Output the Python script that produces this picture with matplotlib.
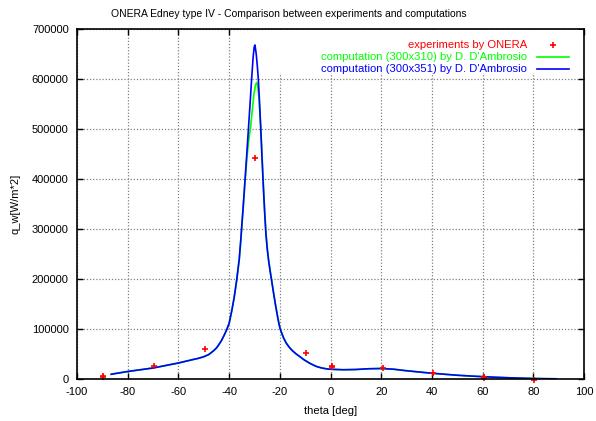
import matplotlib
matplotlib.use("Agg")
import matplotlib.pyplot as plt
from matplotlib.patches import Rectangle

plt.rcParams['font.family'] = ['Liberation Sans', 'DejaVu Sans']

# Experimental data (ONERA)
exp_theta = [-89.6, -89.6, -69.6, -49.5, -29.6, -9.7, 0.5, 0.5, 20.6, 40.5, 60.5, 60.5, 80.3]
exp_q = [6000, 3500, 26000, 60000, 443000, 51500, 27000, 23500, 22500, 12600, 4500, 2500, -1500]

# Computation (300x351)
blue_theta = [-86.5, -80, -70, -60, -55, -52, -50, -48, -46, -45, -44, -43, -42, -41, -40,
              -39, -38, -37, -36, -35.4, -34.4, -33.4, -32.4, -31.7, -31.1, -30.5, -30.1,
              -29.8, -29.3, -28.8, -28.5, -28.0, -27.5, -27.0, -26.5, -26.0, -25.5, -25.0,
              -24.4, -23.8, -23.2, -22.5, -21.7, -21.0, -20.4, -19.9, -19.2, -18.5, -17.5,
              -16.5, -16, -15, -14, -13, -12, -11, -10, -9, -8, -7, -6, -5, -4, -3, -2, -1,
              0, 5, 10, 15, 20, 25, 30, 35, 40, 45, 50, 55, 60, 65, 70, 75, 80, 85, 89]
blue_q = [9500, 15000, 22000, 32000, 38000, 41500, 44500, 49000, 57000, 62000, 69000, 77000,
          87000, 98000, 111000, 135000, 163000, 198000, 240000, 278000, 348000, 422000,
          498000, 553000, 601000, 645000, 664000, 668000, 650000, 622000, 601000, 555000,
          498000, 440000, 385000, 335000, 292000, 262000, 236000, 215000, 196000, 173000,
          148000, 128000, 112000, 101000, 91000, 82000, 72000, 65000, 62000, 56500, 52000,
          48000, 44500, 40500, 37000, 34000, 31000, 28500, 26000, 24200, 22800, 21600,
          20700, 20000, 19500, 18500, 19000, 20500, 21000, 19500, 16500, 14000, 11500,
          9500, 7500, 6000, 4700, 3500, 2500, 1700, 1000, 600, 400]

# Computation (300x310)
green_theta = [-86.5, -80, -70, -60, -55, -52, -50, -48, -46, -45, -44, -43, -42, -41, -40,
               -39, -38, -37, -36, -35.4, -34.4, -33.7, -33.0, -32.3, -31.5, -30.8, -30.2,
               -29.6, -29.1, -28.7, -28.3, -27.9, -27.5, -27.0, -26.5, -26.0, -25.5, -25.0,
               -24.4, -23.8, -23.2, -22.5, -21.7, -21.0, -20.4, -19.9, -19.2, -18.5, -17.5,
               -16.5, -16, -15, -14, -13, -12, -11, -10, -9, -8, -7, -6, -5, -4, -3, -2, -1,
               0, 5, 10, 15, 20, 25, 30, 35, 40, 45, 50, 55, 60, 65, 70, 75, 80, 85, 89]
green_q = [9500, 15000, 22000, 32000, 38000, 41500, 44500, 49000, 57000, 62000, 69000, 77000,
           87000, 98000, 111000, 135000, 163000, 198000, 238000, 275000, 345000, 395000,
           440000, 475000, 505000, 540000, 570000, 588000, 593000, 585000, 565000, 535000,
           505000, 448000, 392000, 340000, 296000, 265000, 238000, 217000, 198000, 174000,
           149000, 129000, 113000, 102000, 91500, 82500, 72500, 65500, 62000, 56500, 52000,
           48000, 44500, 40500, 37000, 34000, 31000, 28500, 26000, 24200, 22800, 21600,
           20700, 20000, 19500, 18500, 19000, 20500, 21000, 19500, 16500, 14000, 11500,
           9500, 7500, 6000, 4700, 3500, 2500, 1700, 1000, 600, 400]

xticks = [-100, -80, -60, -40, -20, 0, 20, 40, 60, 80, 100]
yticks = [0, 100000, 200000, 300000, 400000, 500000, 600000, 700000]

labels = ['experiments by ONERA',
          "computation (300x310) by D. D'Ambrosio",
          "computation (300x351) by D. D'Ambrosio"]

W, H = 596, 421
fig = plt.figure(figsize=(5.96, 4.21), dpi=100)
ax = fig.add_axes([77 / W, 1 - 379 / H, (584 - 77) / W, (379 - 29) / H])
ax.set_axisbelow(True)

ax.plot(green_theta, green_q, color='#00ff00', lw=1.2, zorder=3)
ax.plot(blue_theta, blue_q, color='#0000ff', lw=1.2, zorder=4)
ax.plot(exp_theta, exp_q, linestyle='none', marker='+', color='red', ms=5, mew=1.2,
        zorder=5, clip_on=False)

ax.set_xlim(-100, 100)
ax.set_ylim(0, 700000)
ax.set_xticks(xticks)
ax.set_yticks(yticks)
ax.set_xticklabels([str(v) for v in xticks])
ax.set_yticklabels([str(v) for v in yticks])
ax.tick_params(direction='in', length=4, width=1, labelsize=8, top=True, right=True,
               pad=6, colors='black')
ax.grid(True, color='#808080', linestyle=(0, (1, 1.5)), linewidth=0.9)
for s in ax.spines.values():
    s.set_linewidth(1.2)
    s.set_zorder(6)

fig.text(289 / W, 1 - 14 / H,
         'ONERA Edney type IV - Comparison between experiments and computations',
         fontsize=7.5, ha='center', va='center')
ax.set_xlabel('theta [deg]', fontsize=8, labelpad=6)
ax.set_ylabel('q_w[W/m*2]', fontsize=8, labelpad=8)

# key (gnuplot style): white box hiding the grid, right-aligned labels, samples at right
ax.add_patch(Rectangle((268 / W, 1 - 73 / H), (583 - 268) / W, (73 - 30) / H,
                       transform=fig.transFigure, facecolor='white', edgecolor='none',
                       zorder=2))
key_y = [45, 57, 69]
key_col = ['red', '#00ff00', '#0000ff']
for lab, yy, c in zip(labels, key_y, key_col):
    fig.text(527 / W, 1 - yy / H, lab, color=c, fontsize=8.1, ha='right', va='center',
             zorder=8)
fig.add_artist(plt.Line2D([553 / W], [1 - key_y[0] / H], marker='+', color='red', ms=5,
                          mew=1.2, linestyle='none', transform=fig.transFigure))
for yy, c in zip(key_y[1:], key_col[1:]):
    fig.add_artist(plt.Line2D([537 / W, 569 / W], [1 - yy / H, 1 - yy / H], color=c,
                              lw=1.2, transform=fig.transFigure))

fig.savefig('out.png', dpi=100)
